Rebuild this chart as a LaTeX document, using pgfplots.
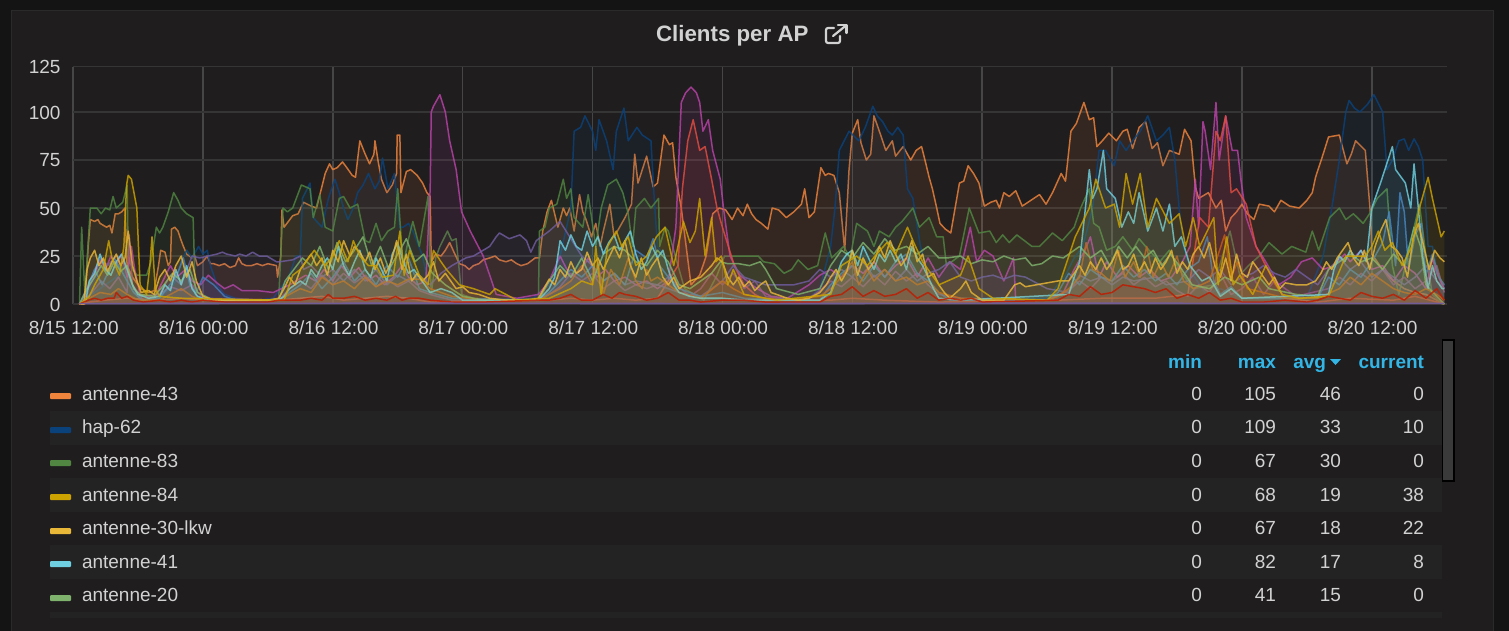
\documentclass[border=0pt]{standalone}
\usepackage{fontspec}
\setmainfont{Liberation Sans}
\usepackage{pgfplots}
\pgfplotsset{compat=1.18}
\definecolor{cpage}{HTML}{141414}
\definecolor{cpanel}{HTML}{1F1D1E}
\definecolor{cedge}{HTML}{2A2A2A}
\definecolor{cband}{HTML}{242324}
\definecolor{cbar}{HTML}{3A3A3A}
\definecolor{cgridh}{HTML}{363536}
\definecolor{cgridv}{HTML}{474647}
\definecolor{ctext}{HTML}{D2D2D2}
\definecolor{chead}{HTML}{33B5E5}
\definecolor{cA}{HTML}{EF843C}
\definecolor{cB}{HTML}{0A437C}
\definecolor{cC}{HTML}{508642}
\definecolor{cD}{HTML}{CCA300}
\definecolor{cE}{HTML}{EAB839}
\definecolor{cF}{HTML}{6ED0E0}
\definecolor{cG}{HTML}{7EB26D}
\definecolor{cH}{HTML}{BA43A9}
\definecolor{cI}{HTML}{E24D42}
\definecolor{cJ}{HTML}{705DA0}
\definecolor{cK}{HTML}{447EBC}
\definecolor{cL}{HTML}{C15C17}
\definecolor{cM}{HTML}{BF1B00}
\definecolor{cN}{HTML}{8E4F8A}
\newcommand{\ser}[2]{%
  \addplot[draw=none,fill=#1,fill opacity=.1,forget plot] table[row sep=crcr]{#2} \closedcycle;
  \addplot[#1,line width=1.5pt,line join=round,draw opacity=.82,forget plot] table[row sep=crcr]{#2};
}
\newcommand{\rowtxt}[6]{%
  \node[anchor=base west,text=ctext] at (82pt,-#1pt) {#2};
  \node[anchor=base east,text=ctext] at (1202pt,-#1pt) {0};
  \node[anchor=base east,text=ctext] at (1276pt,-#1pt) {#3};
  \node[anchor=base east,text=ctext] at (1341pt,-#1pt) {#4};
  \node[anchor=base east,text=ctext] at (1424pt,-#1pt) {#5};
}
\begin{document}
\fontsize{19}{22}\selectfont
\begin{tikzpicture}[inner sep=0pt,outer sep=0pt]
\useasboundingbox (0,0) rectangle (1509pt,-631pt);
\fill[cpage] (0,0) rectangle (1509pt,-631pt);
\begin{scope}
\clip (0,0) rectangle (1509pt,-631pt);
\fill[cpanel,draw=cedge,line width=1pt] (11pt,-11pt) rectangle (1493pt,-640pt);
\end{scope}
% legend bands
\fill[cband] (50pt,-411pt) rectangle (1442pt,-445pt);
\fill[cband] (50pt,-478pt) rectangle (1442pt,-512pt);
\fill[cband] (50pt,-545pt) rectangle (1442pt,-579pt);
\fill[cband] (50pt,-612pt) rectangle (1442pt,-618pt);
\begin{axis}[
  at={(73pt,-304pt)},anchor=south west,scale only axis,
  width=1373.5pt,height=237.5pt,
  xmin=0,xmax=126.9,ymin=0,ymax=123.7,
  axis line style={draw=none},
  major tick length=0pt,
  xtick={0,12,24,36,48,60,72,84,96,108,120},
  xticklabels={8/15 12:00,8/16 00:00,8/16 12:00,8/17 00:00,8/17 12:00,8/18 00:00,8/18 12:00,8/19 00:00,8/19 12:00,8/20 00:00,8/20 12:00},
  ytick={0,25,50,75,100,123.7},
  yticklabels={0,25,50,75,100,125},
  grid=major,
  x grid style={cgridv,line width=1.5pt},
  y grid style={cgridh,line width=1.7pt},
  tick label style={text=ctext,font=\fontsize{19}{22}\selectfont},
  xticklabel style={yshift=-17pt,xshift=.7pt},
  yticklabel style={xshift=-12.5pt,yshift=-.5pt},
  clip=true,
]
\ser{cA}{x y\\0.6 0\\1.1 0\\1.4 30\\1.6 44\\2.0 43\\2.3 44\\2.5 42\\2.8 41\\3.1 40\\3.4 41\\3.6 37\\3.9 47\\4.2 47\\4.5 48\\4.8 50\\5.0 20\\5.5 14\\6 10\\6.3 8\\7 6\\7.5 7\\7.9 20\\8.1 28\\8.5 27\\8.8 20\\9 22\\9.1 39\\9.4 40\\9.7 38\\10 33\\10.2 30\\10.5 26\\11 24\\11.2 26\\11.5 20\\12 22\\12.4 25\\12.7 21\\13 21\\13.5 20\\14 21\\14.5 19\\15 20\\15.3 24\\15.6 21\\16 20\\16.5 20\\17 21\\17.5 20\\18 21\\18.8 20\\18.9 14\\19.2 25\\19.3 49\\19.5 40\\19.9 43\\20.3 46\\20.8 47\\21.3 53\\22 51\\22.5 50\\23.3 68\\23.7 73\\24 70\\24.4 71\\24.9 74\\25.3 71\\25.8 67\\26.1 66\\26.5 85\\27 78\\27.4 73\\27.8 78\\27.9 85\\28.2 74\\28.5 65\\29 58\\29.5 62\\29.9 68\\29.95 88\\30.2 88\\30.3 58\\30.8 69\\31.2 70\\31.8 67\\32.3 63\\32.7 58\\33 56\\33.1 22\\33.5 26\\34 25\\34.4 28\\34.8 32\\35.2 27\\35.7 21\\36.2 20\\36.6 18\\37 20\\37.5 21\\37.9 23\\38.5 24\\39 25\\39.4 23\\40 22\\40.5 23\\41 21\\41.4 20\\42 21\\42.7 24\\43.1 24\\43.4 38\\43.8 48\\44.2 54\\44.8 40\\45.3 50\\45.6 46\\45.9 50\\46.3 38\\46.8 57\\47.1 48\\47.4 44\\47.9 35\\48.3 42\\48.7 30\\49 38\\49.6 52\\50 35\\50.5 40\\51 45\\51.6 52\\51.9 78\\52.2 63\\52.6 70\\53 77\\53.6 61\\54 63\\54.6 88\\55.1 83\\55.4 84\\55.7 66\\56.2 50\\57.1 10\\57.9 15\\58.5 25\\59.1 47\\59.7 50\\60.3 49\\60.9 44\\61.4 50\\61.9 46\\62.3 52\\62.7 47\\63.1 44\\63.6 42\\64.2 39\\64.6 50\\65.2 49\\65.9 45\\66.6 48\\67.3 52\\67.6 60\\68 45\\68.5 48\\69.1 71\\69.5 67\\69.8 68\\70.3 67\\70.8 58\\71.3 28\\71.7 70\\72 89\\72.5 96\\72.8 84\\73.3 75\\73.7 78\\74 98\\74.5 90\\75.1 80\\75.7 85\\76 77\\76.7 82\\77.4 75\\77.9 80\\78.4 82\\78.8 73\\79.1 66\\79.4 60\\79.8 50\\80.1 42\\80.6 39\\81.1 37\\81.9 63\\82.3 64\\82.7 72\\83.2 68\\83.7 63\\84.2 51\\84.8 53\\85.3 54\\85.6 50\\86 58\\86.5 56\\87.1 59\\87.7 51\\88.5 54\\89.3 57\\89.9 52\\90.5 58\\91.3 68\\91.7 64\\92.2 90\\92.7 94\\93.4 105\\93.9 96\\94.3 97\\94.6 82\\95.1 85\\95.7 89\\96.4 85\\97 90\\97.4 91\\97.9 81\\98.5 92\\99.1 95\\99.7 81\\100.2 84\\100.7 72\\101.3 80\\102.2 78\\102.7 91\\103.3 85\\103.7 61\\104 55\\104.9 58\\105.6 50\\106.1 54\\106.5 38\\107 45\\107.5 48\\108 52\\108.5 47\\109.1 44\\109.6 52\\110.5 51\\111 48\\111.6 54\\112.4 51\\113.3 50\\114 54\\114.5 58\\114.8 66\\115.5 78\\116 87\\117 88\\117.7 73\\118.1 78\\118.5 85\\119.4 80\\119.9 45\\120 26\\121 18\\122 12\\123 8\\124 6\\125 5\\126 2\\126.7 0\\}
\ser{cB}{x y\\0.6 0\\1.2 3\\2 6\\3 10\\4 14\\4.5 20\\5 12\\6 4\\8 4\\9 8\\9.5 12\\10 22\\10.5 28\\11 24\\11.6 30\\12 26\\12.4 28\\12.7 20\\13.3 10\\14 5\\15 3\\17 2\\18.5 3\\19.4 10\\20 15\\20.6 25\\21 25\\21.2 55\\21.9 63\\22.2 45\\23 40\\23.6 55\\24.2 65\\24.6 58\\25 50\\25.4 44\\25.9 50\\26.3 58\\26.8 62\\27.3 68\\27.9 60\\28.3 64\\28.6 76\\29.1 60\\29.7 68\\30.2 40\\30.5 40\\31 42\\31.4 38\\32.3 25\\33 5\\34 3\\36 3\\38 2\\42.5 3\\44 10\\45 25\\46 50\\46.3 90\\46.9 92\\47.3 98\\48 90\\48.3 80\\48.6 96\\49.3 85\\49.9 70\\50.2 90\\50.9 102\\51.3 85\\52.1 92\\52.6 88\\53.4 85\\53.7 55\\54 30\\54.6 25\\55.6 15\\56.2 8\\57 3\\60 3\\65 2\\68 3\\69 8\\70 30\\70.4 50\\70.8 80\\71.7 90\\72.6 85\\73.2 92\\73.9 103\\74.3 98\\74.8 95\\75.3 90\\75.7 88\\76.2 92\\76.7 88\\77.1 60\\77.6 55\\78.3 30\\79.2 12\\80 6\\81 3\\85 3\\90 3\\91.7 15\\92.5 24\\93.3 30\\94.2 50\\94.8 80\\95.4 80\\96.2 72\\96.7 85\\97.3 80\\97.9 85\\98.6 90\\99.3 98\\100.1 85\\100.7 88\\101.3 92\\101.8 75\\102.2 50\\102.6 30\\103.5 15\\104.7 5\\106 8\\108 3\\112 2\\114 3\\115.5 25\\116.3 50\\117 75\\117.6 100\\117.9 106\\118.4 102\\118.9 100\\119.6 104\\120.2 109\\121 100\\121.4 70\\121.9 75\\122.5 85\\123 86\\123.4 80\\123.9 86\\124.3 82\\124.7 75\\125.2 30\\125.6 30\\126 18\\126.5 8\\126.7 10\\}
\ser{cC}{x y\\0.6 0\\0.8 40\\1.1 5\\1.6 50\\2.2 50\\2.6 47\\3 50\\3.4 49\\3.7 56\\4 50\\4.6 53\\5 62\\5.1 25\\5.5 18\\5.9 15\\6.8 15\\7.2 22\\7.7 40\\8 37\\8.3 40\\8.8 48\\9.3 58\\9.7 54\\10 50\\10.5 47\\11.1 45\\11.3 5\\11.7 3\\13 2\\17 2\\19 2\\19.4 50\\19.8 48\\20.3 50\\21.1 62\\21.9 60\\22.2 45\\22.8 57\\23.3 40\\24 38\\24.6 55\\25 56\\25.6 50\\26.3 52\\27 33\\27.4 32\\28 42\\28.5 33\\29.1 38\\29.7 40\\30 60\\30.5 20\\31 34\\31.4 43\\32 30\\32.8 56\\33.1 5\\33.5 24\\33.9 30\\34.6 38\\35 33\\35.4 34\\35.9 5\\37 3\\40 2\\43 3\\43.1 38\\43.6 40\\44 50\\44.7 52\\45.3 65\\45.6 55\\46 60\\46.3 45\\47.1 40\\47.6 57\\48.3 30\\48.8 50\\49.4 62\\50.2 65\\50.8 58\\51.3 47\\51.7 30\\52 50\\52.8 55\\53.4 50\\54.1 55\\54.2 30\\54.7 40\\55 38\\55.9 20\\56.5 8\\58.3 2\\59.5 15\\60.2 25\\61.4 25\\62 25\\63.3 25\\63.8 22\\64.8 21\\65.7 16\\66.4 18\\67 23\\67.9 18\\68.8 20\\69.5 37\\70.1 24\\71.2 30\\71.8 24\\72.4 42\\73.4 38\\74 30\\74.5 38\\75.4 35\\76 40\\76.6 43\\77.6 50\\78.2 40\\79.1 45\\79.8 35\\80.4 35\\80.7 20\\81.9 25\\82.8 50\\83.7 37\\84.7 38\\85.3 32\\85.9 36\\86.5 32\\87.2 36\\87.9 33\\88.6 30\\89.3 30\\90 34\\90.5 37\\91.4 33\\92.5 40\\93.1 50\\93.9 60\\94.3 42\\94.8 40\\95.5 28\\96.3 30\\97 35\\97.9 28\\98.5 34\\99.1 30\\100.4 22\\101.3 28\\102.2 18\\103.5 8\\105.4 10\\106.9 38\\107.8 15\\108.6 20\\109.6 25\\110.5 32\\111.7 26\\112.6 30\\113.9 27\\114.5 38\\115.1 28\\116.1 45\\117 50\\117.6 44\\118.3 47\\119.2 42\\119.9 48\\120.5 55\\121.4 60\\121.9 20\\122.5 5\\123.5 30\\124.4 52\\125 25\\125.6 5\\126.5 0\\126.7 0\\}
\ser{cN}{x y\\0.6 0\\1.6 5\\2.6 12\\3.4 8\\4.2 14\\5 6\\5.2 36\\5.5 10\\6.5 2\\8 5\\9 9\\10 7\\11 10\\12 3\\19 2\\20 8\\21 12\\22 8\\23 15\\24 10\\25 16\\26 11\\27 15\\28 9\\29 13\\30 9\\31 12\\32 7\\33 5\\35 2\\43 2\\44 5\\45 9\\46 16\\47 12\\48 16\\49 8\\50 12\\51 7\\52 10\\53 8\\54 10\\55 14\\56 9\\57 4\\58 8\\59 16\\60 10\\61 16\\62 8\\63 12\\64 4\\66 2\\68 3\\69 7\\70 12\\71 9\\72 14\\73 9\\74 15\\75 10\\76 17\\77 12\\78 16\\79 10\\80 5\\82 3\\84 2\\90 2\\92 7\\93 12\\94 8\\95 14\\96 12\\97 16\\98 10\\99 14\\100 9\\101 12\\102 7\\103 4\\104 10\\105 6\\106 16\\107 5\\108 8\\109 14\\110 5\\111 12\\112 8\\113 4\\116 8\\117 14\\118 10\\119 16\\120 12\\121 18\\122 10\\123 14\\124 8\\125 12\\126 20\\126.7 6\\}
\ser{cH}{x y\\0.6 0\\1.4 8\\2 15\\2.5 23\\3 18\\3.5 25\\4 20\\4.5 26\\5 14\\5.4 30\\5.7 18\\6.2 5\\7.5 3\\8.3 12\\9 20\\9.6 14\\10.4 18\\11 12\\11.8 10\\12.5 15\\13.3 11\\14 8\\14.8 10\\15.6 7\\17 7\\18.5 6\\20 10\\21.5 15\\22.4 12\\23.2 18\\24 12\\24.8 20\\25.6 14\\26.4 19\\27.2 12\\28 15\\28.8 10\\29.6 14\\30.4 20\\31 14\\31.8 10\\32.6 12\\33 60\\33.1 100\\33.3 103\\33.9 109\\34.4 100\\34.8 85\\35.4 70\\35.9 48\\36.7 38\\37.9 25\\38.5 15\\39.1 5\\41 3\\43 5\\44 12\\45 25\\46 14\\47 18\\47.6 24\\48.4 14\\49.2 18\\50 12\\51 14\\52 10\\53 12\\54 8\\55 12\\55.7 40\\56.2 105\\56.6 110\\57.1 113\\57.6 110\\57.9 105\\58.2 90\\58.7 96\\59.1 80\\59.8 65\\60.1 50\\60.7 25\\61.6 15\\63.2 8\\64.5 4\\66 3\\68 10\\69 15\\70 18\\71 14\\72 20\\73 16\\74 22\\75 14\\76 20\\77 24\\78 14\\79 24\\80 14\\81 22\\82 18\\82.9 40\\83.5 22\\84.2 28\\85 25\\86 12\\86.9 24\\87.1 2\\90 2\\91.5 6\\92.5 18\\93.5 28\\94 35\\94.8 14\\95.5 22\\96.5 14\\97.5 20\\98.5 14\\99.5 18\\100.5 12\\101.5 14\\102.5 22\\103.2 30\\103.7 65\\104 40\\104.4 95\\104.6 90\\105.1 70\\105.6 105\\105.9 75\\106.5 98\\107.1 80\\107.6 80\\107.9 65\\108.4 45\\109.3 30\\110.2 22\\111.4 10\\112.5 14\\113.5 22\\114.5 24\\115.5 18\\116.5 20\\117.5 26\\118 22\\119 28\\120 18\\121 20\\122 12\\123 20\\124 16\\125 8\\125.6 24\\126 16\\126.7 8\\}
\ser{cI}{x y\\0.6 0\\1.5 1\\3 2\\5 3\\8 2\\10 3\\12 2\\19 2\\21 3\\23 4\\25 2\\27 3\\29 4\\31 3\\33 1\\44 2\\46 3\\48 2\\50 3\\52 2\\54 3\\55.9 20\\56.3 60\\56.8 85\\57.3 96\\57.9 80\\58.4 82\\59 65\\59.5 50\\60 40\\61.1 20\\62 10\\63 5\\64 2\\70 2\\72 3\\75 2\\80 1\\91 2\\95 3\\100 3\\103 5\\104.1 45\\104.9 40\\105.6 90\\106 85\\106.5 98\\107 58\\107.5 60\\108.4 52\\109.3 30\\110.2 20\\111.1 10\\112 3\\115 1\\118 3\\122 2\\124 4\\126.7 0\\}
\ser{cJ}{x y\\0.6 0\\1.4 10\\2 18\\2.6 24\\3.2 20\\4 25\\4.6 24\\5.3 12\\6 4\\8 5\\9 15\\10 10\\11 25\\11.7 24\\12.5 25\\13.3 26\\13.8 27\\14.2 26\\15 25\\15.4 26\\16 25\\16.6 27\\17.2 25\\17.9 25\\18.8 22\\19.1 22\\20.3 23\\21 25\\21.3 18\\22 20\\23 14\\24 18\\25 12\\26 18\\27 12\\28 18\\29 10\\30 15\\31 12\\32 15\\33 10\\34 16\\35 20\\36.3 24\\37 25\\37.9 28\\38.5 30\\39.1 35\\39.4 37\\40.3 34\\41.3 36\\41.9 33\\42.3 27\\42.8 33\\44 38\\45 43\\46 34\\47 25\\48 20\\49 12\\50 16\\51 10\\52 12\\54 10\\56 6\\58 4\\60 12\\61 20\\62 14\\63 12\\64 10\\65 10\\66.6 10\\68 12\\69 18\\70 14\\71 18\\72 14\\73 22\\74 14\\75 18\\76 12\\77 18\\78 12\\79 16\\80 18\\81 22\\82 14\\83 12\\84 14\\85 15\\86 13\\87 15\\88 14\\90 8\\92 6\\93 15\\94 12\\95 14\\96 10\\97 14\\98 12\\100 14\\101 10\\103 12\\104 18\\105 14\\106 18\\107 10\\108 14\\109 16\\110 20\\111 16\\112 14\\113 18\\114 14\\115 10\\116 18\\117 24\\118 18\\119 22\\120 14\\121 18\\122 14\\123 10\\124 14\\125 20\\126 12\\126.7 8\\}
\ser{cK}{x y\\0.6 0\\1.2 6\\2 18\\2.7 10\\3.2 16\\3.8 24\\4.4 18\\5 12\\5.6 6\\6.4 2\\8 3\\8.8 9\\9.6 15\\10.2 24\\10.8 10\\11.4 6\\12 14\\13 10\\14 4\\15 2\\19 2\\20 6\\21 10\\22 16\\23 8\\24 14\\25 22\\26 12\\27 18\\28 10\\29 20\\30 14\\31 24\\32 8\\33 6\\35 3\\43 2\\44 6\\45 12\\46 18\\47 14\\48 20\\49 12\\50 16\\51 10\\52 28\\53 24\\53.6 34\\54.2 20\\55 14\\56 8\\58 4\\60 6\\62 3\\69 2\\70 10\\71 16\\72 20\\73 12\\74 20\\75 14\\76 22\\77 26\\78 16\\79 12\\80 6\\81 2\\90 2\\91 6\\92 16\\93 10\\94 18\\95 14\\96 12\\97 20\\98 14\\99 18\\100 12\\101 16\\102 10\\103 18\\104 22\\104.8 35\\105.4 12\\106 5\\107 9\\108 3\\115 3\\116 14\\117 10\\118 18\\119 14\\120 22\\121 32\\121.6 48\\122.2 20\\122.6 58\\123 48\\123.4 18\\124 36\\124.6 42\\125 15\\125.6 26\\126.2 14\\126.7 10\\}
\ser{cL}{x y\\0.6 0\\1.5 3\\2.5 6\\3.5 5\\4.2 8\\5 5\\6 2\\8 2\\9 5\\10 8\\11 4\\12 2\\19 2\\20 5\\21 8\\22 6\\23 14\\24 10\\25 12\\26 8\\27 14\\28 9\\29 12\\30 10\\31 13\\32 13\\33 8\\35 4\\38 2\\43 2\\44 5\\45 8\\46 12\\47 20\\48 10\\48.5 22\\49 5\\49.7 18\\50.5 10\\51.3 24\\52 12\\52.6 8\\53 18\\53.4 12\\54 14\\55 10\\56 6\\58 3\\60 12\\61 8\\62 5\\64 3\\66 2\\69 4\\70 8\\71 14\\72 22\\72.6 10\\73.4 18\\74 12\\75 18\\76 12\\77 14\\78 10\\79 12\\80 6\\82 3\\90 2\\91 4\\92 8\\93 14\\93.6 32\\94.2 18\\95 16\\95.8 12\\96.6 28\\97.2 14\\98 22\\98.6 14\\99.2 30\\99.8 14\\100.5 22\\101.2 14\\102 25\\102.6 12\\103.5 8\\105 12\\106.4 36\\107 14\\107.6 22\\108.5 8\\110 6\\112 3\\115 3\\117 8\\118 14\\119 10\\120 16\\121 12\\122 8\\123 6\\124 5\\125 8\\126 5\\126.7 2\\}
\ser{cG}{x y\\0.6 0\\1.3 8\\2 14\\2.6 20\\3.2 15\\3.8 22\\4.4 17\\5 20\\5.6 8\\6.2 5\\7.5 4\\8.4 10\\9.2 16\\10 12\\10.8 18\\11.5 6\\13 2\\19 2\\19.6 12\\20.4 18\\21.2 24\\22 20\\22.8 30\\23.6 18\\24.4 32\\25.2 22\\26 28\\26.8 35\\27.6 20\\28.4 30\\29.2 18\\30 26\\30.8 34\\31.6 22\\32.4 26\\33.2 16\\34.4 10\\36 4\\38 2\\43 2\\44 12\\45 20\\46 14\\47 24\\48 12\\49 26\\50 30\\51 28\\52 22\\53 20\\54 28\\55 22\\56 10\\57 8\\58 12\\59 16\\59.8 22\\60.5 21\\61.5 21\\62.5 20\\63.5 22\\64 18\\65 8\\67 5\\69 8\\70 20\\71 28\\72 24\\73 32\\74 26\\75 34\\76 28\\77 30\\78 26\\79 30\\80 24\\80.8 24\\82 25\\83 21\\84 23\\85 22\\86 25\\87 23\\88 24\\88.6 20\\89.5 21\\90.5 25\\91.5 24\\92 26\\93 30\\94 24\\95 28\\95.8 20\\96.6 30\\97.4 24\\98.2 30\\99 24\\99.8 28\\100.6 20\\101.4 26\\102.2 20\\103.4 10\\105 8\\106.4 14\\108 10\\109.6 14\\110.5 8\\113 5\\115 4\\116 18\\117 22\\118 26\\119 22\\120 24\\121 18\\122 26\\123 20\\123.9 40\\124.5 30\\125 10\\126 4\\126.7 0\\}
\ser{cF}{x y\\0.6 0\\1.2 2\\1.5 12\\2 16\\2.5 26\\3 18\\3.5 15\\4 22\\4.5 26\\5 18\\5.5 10\\6 5\\7 3\\8 4\\8.5 10\\9 7\\9.5 18\\10 10\\10.5 20\\11 8\\11.5 4\\12.5 2\\19 2\\19.5 4\\20 8\\21 12\\21.5 10\\22 18\\22.5 14\\23 20\\23.5 24\\24 18\\24.5 30\\25 20\\25.5 15\\26 22\\26.5 28\\27 18\\27.5 14\\28 24\\28.5 18\\29 12\\29.5 26\\30 32\\30.5 22\\31 16\\31.5 18\\32 14\\32.5 10\\33 6\\34 8\\35 6\\36 2\\43 2\\44 8\\44.5 14\\45 33\\45.5 28\\46 36\\46.5 30\\47 28\\47.5 38\\48 30\\48.5 35\\49 26\\49.5 32\\50 36\\50.5 28\\51 33\\51.5 38\\52 26\\52.5 18\\53 22\\53.5 30\\54 24\\54.5 28\\55 18\\55.5 10\\56 6\\57 4\\58 3\\60 3\\62 2\\69 2\\70 6\\70.5 14\\71 22\\71.5 26\\72 28\\72.5 20\\73 30\\73.5 24\\74 18\\74.5 26\\75 22\\75.5 28\\76 22\\76.5 26\\77 18\\77.5 30\\78 24\\78.5 20\\79 14\\79.5 8\\80 3\\82 2\\92 5\\92.5 14\\93 22\\93.5 48\\93.9 70\\94.2 55\\94.6 60\\95.2 80\\95.5 60\\96.3 55\\96.9 40\\97.5 48\\98 42\\98.5 58\\99.3 38\\100.1 50\\100.7 38\\101.3 52\\101.8 30\\102.4 35\\103.2 20\\104.3 12\\105 14\\106 4\\107 8\\108 3\\116 5\\116.5 18\\117 25\\117.5 22\\118 28\\118.5 24\\119 28\\119.5 22\\120 50\\120.8 63\\121.9 82\\122.2 70\\123.1 63\\123.6 50\\123.9 73\\124.3 50\\124.7 25\\125.2 8\\125.6 20\\126 12\\126.5 8\\126.7 8\\}
\ser{cE}{x y\\0.6 0\\1 0\\1.3 18\\1.6 24\\2 28\\2.4 20\\2.8 24\\3.2 17\\3.6 22\\4 26\\4.4 20\\4.8 24\\5.1 38\\5.5 20\\5.9 12\\6.3 6\\7 7\\7.5 5\\8 14\\8.5 18\\9 12\\9.5 20\\10 25\\10.5 14\\11 22\\11.4 12\\12 4\\13 2\\15 2\\18 2\\19 3\\19.5 8\\20 14\\20.5 10\\21 18\\21.5 22\\22 26\\22.5 20\\23 24\\23.5 15\\24 28\\24.5 22\\25 33\\25.6 25\\26 30\\26.5 27\\27 22\\27.4 27\\27.9 18\\28.4 24\\28.9 16\\29.4 22\\29.9 33\\30.4 18\\30.8 26\\31.3 12\\31.8 16\\32.3 12\\32.8 15\\33.3 22\\33.8 12\\34.4 16\\34.9 12\\35.4 8\\36 9\\36.6 6\\37.5 5\\38.5 3\\40 2\\42 2\\43 3\\43.5 8\\44 13\\44.5 10\\45 18\\45.5 14\\46 22\\46.5 16\\47 18\\47.5 27\\48 20\\48.5 24\\49 18\\49.5 24\\50 30\\50.5 24\\51 33\\51.5 20\\52 14\\52.5 24\\53 15\\53.5 20\\54 24\\54.5 14\\55 10\\55.5 14\\56 8\\57 12\\58 14\\59 20\\59.5 24\\60 22\\60.5 14\\61 10\\61.5 14\\62 9\\62.5 12\\63 7\\63.5 10\\64 12\\64.5 6\\65 5\\66 3\\67 2\\68 3\\69 6\\69.6 10\\70 14\\70.5 18\\71 12\\71.5 17\\72 28\\72.5 15\\73 24\\73.5 18\\74 22\\74.5 30\\75 24\\75.5 33\\76 26\\76.5 20\\77 24\\77.5 33\\78 22\\78.5 26\\79 14\\79.5 16\\80 10\\80.5 6\\81 3\\82 8\\82.5 12\\83 6\\83.5 4\\84 2\\86 2\\87 10\\87.5 11\\88 9\\89 10\\90 11\\91 12\\92 12\\92.5 16\\93 20\\93.5 15\\94 22\\94.5 18\\95 24\\95.5 18\\96 22\\96.5 28\\97 18\\97.5 20\\98 26\\98.5 17\\99 22\\99.5 16\\100 24\\100.5 18\\101 22\\101.5 28\\102 16\\102.5 22\\103 18\\103.5 26\\104 30\\104.5 24\\105 32\\105.5 20\\106 14\\106.5 24\\107 12\\107.5 26\\108 16\\108.5 14\\109 22\\109.5 18\\110 14\\110.5 10\\111 14\\111.5 8\\112 11\\113 10\\114 10\\114.8 12\\115.3 16\\115.8 22\\116.3 18\\116.8 24\\117.3 28\\117.8 32\\118.3 24\\118.8 20\\119.3 28\\119.8 18\\120.3 30\\120.8 38\\121.3 44\\121.8 30\\122.3 28\\122.8 24\\123.3 14\\123.8 34\\124.3 42\\124.8 30\\125.3 18\\125.8 28\\126.3 24\\126.7 22\\}
\ser{cD}{x y\\0.6 0\\1.5 4\\2 10\\2.8 18\\3.3 33\\3.6 24\\4.3 15\\4.7 30\\4.95 62\\5.1 67\\5.4 65\\5.9 50\\6.2 10\\6.8 5\\7.1 20\\7.3 35\\7.6 8\\8 4\\10 3\\19.5 2\\20.3 15\\21 18\\21.9 25\\22.3 28\\23.3 20\\24 25\\24.6 33\\25.4 22\\25.9 33\\26.5 25\\27.3 20\\28 20\\28.6 14\\29.6 15\\30.2 38\\30.6 15\\31.1 28\\32 15\\32.8 10\\33.3 28\\34 22\\34.5 18\\35.7 10\\37 8\\38.5 5\\39 8\\41 2\\44 3\\46 8\\47 12\\48 10\\48.3 30\\48.8 5\\49.4 30\\50.2 38\\50.7 30\\51.3 35\\52 20\\53 25\\53.9 35\\54.7 40\\55.5 20\\56.4 43\\57 32\\57.5 38\\57.9 55\\58.4 25\\59 45\\59.4 22\\59.9 25\\60.5 10\\61 18\\62 5\\65 2\\70 5\\71 20\\72.4 25\\73.4 20\\74.1 25\\75.2 32\\76 26\\77.1 40\\77.6 33\\78.5 22\\80 10\\82 15\\82.7 25\\83.7 8\\85 3\\90 2\\91 8\\92.6 35\\93.9 50\\94.5 65\\95.4 50\\96.2 52\\96.7 40\\97.3 68\\97.9 52\\98.6 68\\99.3 40\\100.1 55\\101.3 42\\102.2 47\\102.8 30\\103.5 45\\104.1 30\\105.4 45\\105.8 10\\106.6 35\\107.2 10\\107.8 15\\109 5\\110.2 20\\111.7 5\\113.3 3\\116 4\\117.6 25\\119.4 25\\120 30\\120.6 38\\121.2 28\\121.9 32\\122.8 20\\123.7 30\\124.4 50\\125.2 66\\125.6 55\\126.4 35\\126.7 38\\}
\ser{cM}{x y\\0.6 0\\1.4 2\\2 3\\2.6 2\\3.2 3\\3.8 3\\4 6\\4.5 3\\5 4\\5.6 2\\6.5 1\\8 2\\9 1\\10 2\\11 1\\12 2\\14 1\\18 1\\19 2\\21 2\\22 3\\23 2\\23.6 5\\24 3\\25 3\\26 4\\27 2\\28 3\\29 2\\29.8 4\\30.4 2\\31 3\\32 3\\33 2\\35 1\\38 1\\43 2\\44 2\\45 3\\46 5\\46.6 3\\47 2\\48 2\\49 5\\49.8 3\\50.5 6\\51 5\\52 4\\53 2\\54 3\\55 6\\56 2\\57 2\\58 1\\60 2\\62 2\\64 1\\66 1\\69 1\\70 4\\71 5\\72 9\\73 4\\74 7\\75 4\\76 5\\77 8\\78 3\\79 6\\80 2\\81 3\\82 2\\83 3\\84 1\\91 2\\92 5\\93 4\\94 9\\95 5\\96 6\\97 10\\98 9\\99 8\\100 6\\101 8\\102 3\\103 5\\104 3\\105 6\\106 2\\107 3\\108 1\\110 1\\112 2\\114 1\\115 2\\116 4\\117 3\\118 2\\119 6\\120 4\\121 3\\122 5\\123 2\\124 7\\125 3\\126 8\\126.7 2\\}
\addplot[cJ,line width=1.6pt,draw opacity=.9,forget plot] table[row sep=crcr]{x y\\0.6 0.2\\30 0.4\\60 0.2\\90 0.4\\126.7 0.3\\};
\end{axis}
% title
\node[anchor=base east,text=ctext] at (808.5pt,-42pt) {\fontsize{22.3}{24}\selectfont\bfseries Clients per AP};
\begin{scope}[ctext,line width=2.2pt,line cap=round,line join=round]
\draw (840pt,-36pt) -- (840pt,-41pt) arc[start angle=0,end angle=-90,radius=2pt] -- (828pt,-43pt) arc[start angle=270,end angle=180,radius=2pt] -- (826pt,-30pt) arc[start angle=180,end angle=90,radius=2pt] -- (834pt,-28pt);
\draw (833pt,-36pt) -- (846pt,-25.5pt);
\draw (838pt,-25pt) -- (846.5pt,-25pt) -- (846.5pt,-33pt);
\end{scope}
% table header
\begin{scope}[every node/.style={text=chead,font=\bfseries}]
\node[anchor=base east] at (1202pt,-368.7pt) {min};
\node[anchor=base east] at (1276pt,-368.7pt) {max};
\node[anchor=base east] at (1326pt,-368.7pt) {avg};
\node[anchor=base east] at (1424pt,-368.7pt) {current};
\end{scope}
\fill[chead] (1330pt,-359pt) -- (1341pt,-359pt) -- (1335.5pt,-365pt) -- cycle;
% scrollbar
\fill[black] (1441.5pt,-339pt) rectangle (1454.5pt,-481.5pt);
\fill[cbar] (1443pt,-341pt) rectangle (1453pt,-480pt);
% legend
\rowtxt{400}{antenne-43}{105}{46}{0}{}
\rowtxt{433.3}{hap-62}{109}{33}{10}{}
\rowtxt{467.3}{antenne-83}{67}{30}{0}{}
\rowtxt{501.3}{antenne-84}{68}{19}{38}{}
\rowtxt{534}{antenne-30-lkw}{67}{18}{22}{}
\rowtxt{568.3}{antenne-41}{82}{17}{8}{}
\rowtxt{601.3}{antenne-20}{41}{15}{0}{}
\fill[cA,rounded corners=1pt] (50pt,-393pt) rectangle (71pt,-399pt);
\fill[cB,rounded corners=1pt] (50pt,-427pt) rectangle (71pt,-433pt);
\fill[cC,rounded corners=1pt] (50pt,-460pt) rectangle (71pt,-466pt);
\fill[cD,rounded corners=1pt] (50pt,-494pt) rectangle (71pt,-500pt);
\fill[cE,rounded corners=1pt] (50pt,-528pt) rectangle (71pt,-534pt);
\fill[cF,rounded corners=1pt] (50pt,-561pt) rectangle (71pt,-567pt);
\fill[cG,rounded corners=1pt] (50pt,-595pt) rectangle (71pt,-601pt);
\end{tikzpicture}
\end{document}
